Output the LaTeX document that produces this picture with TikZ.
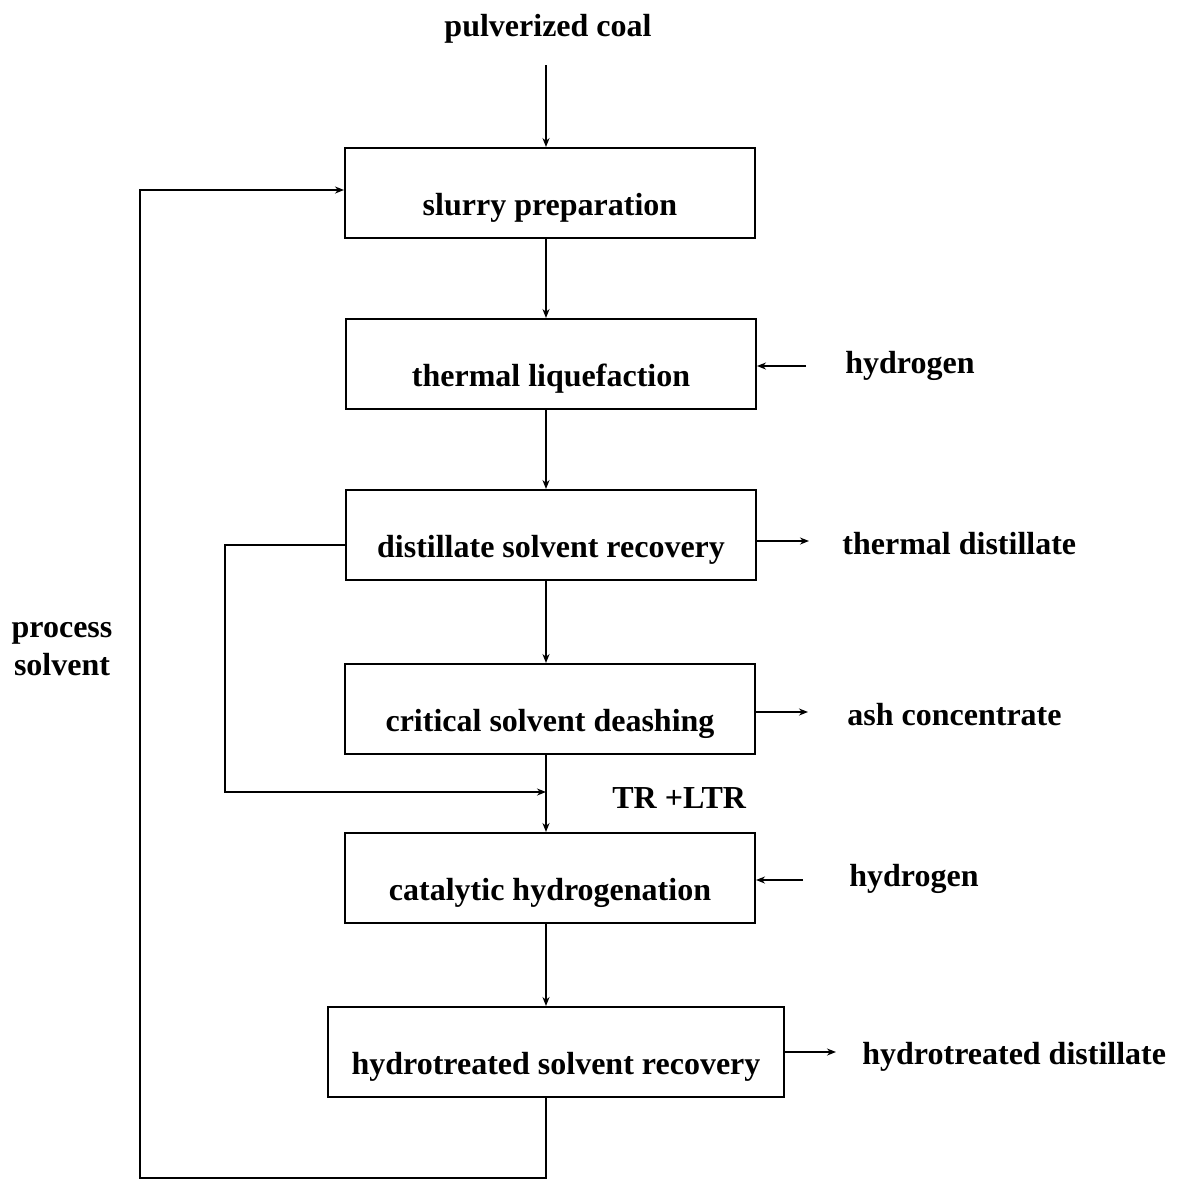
\documentclass[tikz,border=0pt]{standalone}
\usepackage{fontspec}
\setmainfont{Liberation Serif}
\usetikzlibrary{arrows.meta, positioning}

\begin{document}
\begin{tikzpicture}[
  x=0.5pt, y=-0.5pt,
  box/.style={rectangle, draw, line width=1pt, minimum width=205pt, minimum height=45pt, text height=26pt, text depth=4pt, inner sep=0pt},
  lbl/.style={inner sep=0pt},
  arrow/.style={-{Stealth[length=4.5pt, width=3.5pt]}, line width=1pt},
  every node/.style={font=\bfseries\fontsize{16}{19}\selectfont}
]
\useasboundingbox (0,0) rectangle (1178,1180);

% Process steps
\node[box] (slurry) at (550,193) {slurry preparation};
\node[box] (thermal) at (551,364) {thermal liquefaction};
\node[box] (dsr) at (551,535) {distillate solvent recovery};
\node[box] (csd) at (550,709) {critical solvent deashing};
\node[box] (cat) at (550,878) {catalytic hydrogenation};
\node[box, minimum width=228pt] (hsr) at (556,1052) {hydrotreated solvent recovery};

% Feeds and products
\node[lbl] (coal) at (548,29) {pulverized coal};
\node[lbl, anchor=west] (h2a) at (845,366) {hydrogen};
\node[lbl, anchor=west] (tdist) at (842,544) {thermal distillate};
\node[lbl, anchor=west] (ash) at (847,715) {ash concentrate};
\node[lbl, anchor=west] (tr) at (612,798) {TR +LTR};
\node[lbl, anchor=west] (h2b) at (849,879) {hydrogen};
\node[lbl, anchor=west] (hdist) at (862,1057) {hydrotreated distillate};
\node[lbl, align=center] (ps) at (62,649) {process\\solvent};

% Main line
\coordinate (feed) at (546,65);
\draw[arrow] (feed) -- (slurry.north -| feed);
\foreach \a/\b in {slurry/thermal, thermal/dsr, dsr/csd, csd/cat, cat/hsr} {
  \draw[arrow] (\a.south -| feed) -- (\b.north -| feed);
}

% Hydrogen inlets
\draw[arrow] ([xshift=-19.5pt,yshift=-1pt]thermal.east -| h2a.west) -- ([yshift=-1pt]thermal.east);
\draw[arrow] ([xshift=-23pt,yshift=-1pt]cat.east -| h2b.west) -- ([yshift=-1pt]cat.east);

% Product outlets
\draw[arrow] ([yshift=-3pt]dsr.east) -- ++(26pt,0);
\draw[arrow] ([yshift=-1.5pt]csd.east) -- ++(26pt,0);
\draw[arrow] (hsr.east) -- ++(25.5pt,0);

% Resid recycle to hydrogenation
\coordinate (trbend) at (225,792);
\coordinate (mix) at (546,792);
\draw[arrow] ([yshift=-5pt]dsr.west) -| (trbend) -- (mix);

% Process solvent return
\coordinate (sump) at (546,1178);
\coordinate (ret) at (140,1178);
\draw[arrow] (hsr.south -| feed) -- (sump) -- (ret) |- ([yshift=1.5pt]slurry.west);

\end{tikzpicture}
\end{document}
